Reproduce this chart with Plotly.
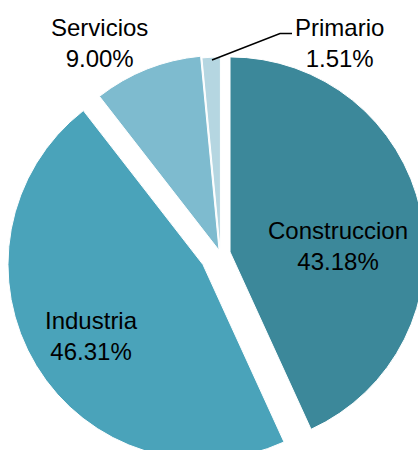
import plotly.graph_objects as go

labels = ["Construccion", "Industria", "Servicios", "Primario"]
values = [43.18, 46.31, 9.00, 1.51]
colors = ["#3C889A", "#4AA3BA", "#7EBBCF", "#B5D6E1"]
pulls = [0.05, 0.105, 0.02, 0.01]

W, H = 440, 475
OFF_X, OFF_Y = 0, 0

def px(x, y):
    return (x - OFF_X) / W, 1 - (y - OFF_Y) / H

FONT = "Liberation Sans"

fig = go.Figure(go.Pie(
    labels=labels, values=values, sort=False, direction="clockwise", rotation=0,
    pull=pulls, marker=dict(colors=colors, line=dict(color="white", width=1)),
    textinfo="none", hoverinfo="label+percent", showlegend=False,
    domain=dict(x=[(5 - OFF_X) / W, (436 - OFF_X) / W],
                y=[1 - (469.5 - OFF_Y) / H, 1 - (38.5 - OFF_Y) / H]),
))

label_pos = {"Construccion": (337.5, 246), "Industria": (91.5, 336),
             "Servicios": (99, 43), "Primario": (339, 43)}
for lab, val in zip(labels, values):
    x, y = px(*label_pos[lab])
    fig.add_annotation(x=x, y=y, xref="paper", yref="paper", showarrow=False,
                       text=f"{lab}<br>{val:.2f}%", xanchor="center", yanchor="middle",
                       font=dict(family=FONT, size=24, color="black"))

p1, p2, p3 = px(212, 60), px(280, 33.5), px(292, 33.5)
fig.add_shape(type="path", xref="paper", yref="paper",
              path=f"M {p1[0]},{p1[1]} L {p2[0]},{p2[1]} L {p3[0]},{p3[1]}",
              line=dict(color="black", width=1.5))

fig.update_layout(width=W, height=H, margin=dict(l=0, r=0, t=0, b=0),
                  paper_bgcolor="white", plot_bgcolor="white")
fig.write_html("out.html", config={"displayModeBar": False}, post_script=(
    "document.body.style.margin='0';"
    "document.documentElement.style.overflow='hidden';"
    "document.body.style.overflow='hidden';"))
